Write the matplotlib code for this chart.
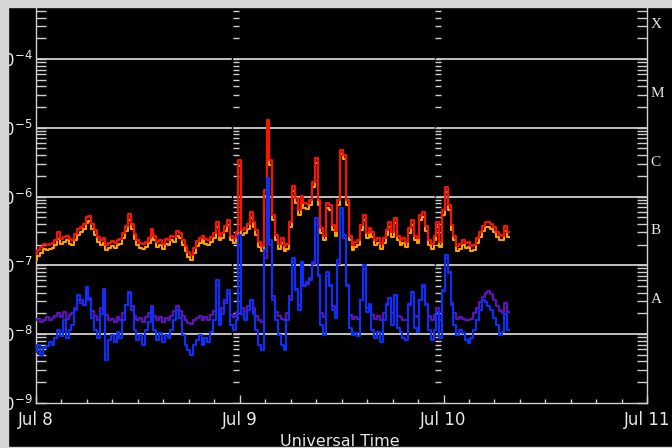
import numpy as np
import matplotlib.pyplot as plt
from matplotlib.ticker import FixedLocator, LogLocator, NullFormatter
from matplotlib.patches import Rectangle

# GOES X-ray flux, 8-10 July, values as log10(W/m^2) every 20 minutes

# long channel (1-8 A), primary satellite
largo_1 = [
    -6.84, -6.78, -6.74, -6.69, -6.71, -6.69, -6.68, -6.63, -6.52, -6.62, -6.59, -6.57,
    -6.62, -6.63, -6.55, -6.48, -6.45, -6.40, -6.30, -6.28, -6.40, -6.49, -6.59, -6.63,
    -6.60, -6.71, -6.68, -6.65, -6.68, -6.63, -6.62, -6.53, -6.43, -6.26, -6.40, -6.55,
    -6.63, -6.68, -6.69, -6.66, -6.60, -6.47, -6.57, -6.66, -6.63, -6.69, -6.62, -6.63,
    -6.57, -6.59, -6.50, -6.53, -6.63, -6.72, -6.81, -6.85, -6.75, -6.65, -6.60, -6.57,
    -6.62, -6.63, -6.59, -6.53, -6.37, -6.57, -6.53, -6.43, -6.34, -6.57, -6.60, -6.52,
    -5.47, -6.49, -6.46, -6.40, -6.23, -6.37, -6.49, -6.66, -6.72, -5.91, -4.89, -5.47,
    -6.27, -6.56, -6.69, -6.60, -6.72, -6.69, -6.37, -5.85, -6.02, -6.20, -5.99, -6.10,
    -6.11, -6.05, -5.79, -5.44, -6.05, -6.46, -6.57, -6.10, -6.12, -6.42, -6.50, -6.05,
    -5.32, -5.40, -6.05, -6.57, -6.71, -6.66, -6.63, -6.42, -6.27, -6.53, -6.46, -6.52,
    -6.63, -6.60, -6.69, -6.60, -6.49, -6.37, -6.52, -6.31, -6.57, -6.63, -6.60, -6.66,
    -6.46, -6.34, -6.57, -6.60, -6.27, -6.23, -6.43, -6.63, -6.69, -6.57, -6.37, -6.66,
    -6.20, -5.86, -6.12, -6.42, -6.57, -6.72, -6.69, -6.63, -6.68, -6.66, -6.72, -6.71,
    -6.60, -6.52, -6.43, -6.37, -6.37, -6.40, -6.45, -6.52, -6.56, -6.57, -6.43, -6.52,
]

# long channel, secondary satellite
largo_2 = [
    -6.92, -6.86, -6.82, -6.77, -6.78, -6.76, -6.75, -6.70, -6.62, -6.69, -6.66, -6.64,
    -6.69, -6.70, -6.63, -6.56, -6.52, -6.47, -6.38, -6.35, -6.47, -6.56, -6.66, -6.70,
    -6.68, -6.78, -6.75, -6.72, -6.75, -6.70, -6.69, -6.61, -6.50, -6.34, -6.47, -6.62,
    -6.70, -6.75, -6.77, -6.73, -6.67, -6.55, -6.64, -6.73, -6.70, -6.76, -6.69, -6.70,
    -6.64, -6.66, -6.58, -6.60, -6.70, -6.79, -6.88, -6.93, -6.82, -6.72, -6.67, -6.64,
    -6.69, -6.70, -6.66, -6.60, -6.45, -6.64, -6.60, -6.50, -6.42, -6.64, -6.67, -6.59,
    -5.55, -6.56, -6.53, -6.47, -6.31, -6.44, -6.56, -6.73, -6.79, -5.99, -4.95, -5.54,
    -6.34, -6.63, -6.76, -6.67, -6.79, -6.76, -6.44, -5.92, -6.09, -6.27, -6.06, -6.17,
    -6.18, -6.12, -5.86, -5.51, -6.12, -6.53, -6.64, -6.17, -6.19, -6.49, -6.57, -6.12,
    -5.38, -5.46, -6.12, -6.64, -6.78, -6.73, -6.70, -6.49, -6.34, -6.60, -6.53, -6.59,
    -6.70, -6.67, -6.76, -6.67, -6.56, -6.44, -6.59, -6.38, -6.64, -6.70, -6.67, -6.73,
    -6.53, -6.41, -6.64, -6.67, -6.34, -6.30, -6.50, -6.70, -6.76, -6.64, -6.44, -6.73,
    -6.27, -5.93, -6.19, -6.49, -6.64, -6.79, -6.76, -6.70, -6.75, -6.73, -6.79, -6.78,
    -6.67, -6.59, -6.50, -6.44, -6.44, -6.47, -6.52, -6.59, -6.63, -6.64, -6.50, -6.59,
]

# short channel (0.5-4 A), primary satellite
corto_1 = [
    -8.26, -8.16, -8.31, -8.20, -8.18, -8.12, -8.16, -8.06, -7.94, -8.03, -7.80, -8.06,
    -7.94, -7.87, -7.65, -7.44, -7.51, -7.58, -7.32, -7.48, -7.77, -7.94, -8.06, -7.71,
    -7.36, -8.38, -8.09, -8.01, -8.12, -7.97, -8.06, -7.80, -7.58, -7.39, -7.65, -7.94,
    -8.09, -8.01, -8.16, -7.94, -7.83, -7.62, -7.94, -8.09, -7.99, -8.12, -8.01, -8.06,
    -7.94, -7.80, -7.65, -7.77, -8.01, -8.16, -8.23, -8.31, -8.16, -8.09, -8.01, -8.16,
    -8.06, -8.12, -7.97, -7.80, -7.22, -7.87, -7.71, -7.51, -7.36, -7.87, -7.94, -7.80,
    -6.56, -7.71, -7.80, -7.65, -7.51, -7.71, -7.94, -8.16, -8.23, -6.78, -5.73, -6.63,
    -7.51, -7.80, -8.01, -8.16, -8.23, -7.80, -7.51, -6.90, -7.36, -7.65, -6.95, -7.29,
    -7.25, -7.19, -6.95, -6.32, -7.14, -7.87, -8.01, -7.10, -7.29, -7.65, -7.77, -6.93,
    -6.17, -6.56, -7.29, -7.92, -8.01, -7.99, -8.03, -7.51, -7.00, -7.68, -7.58, -7.94,
    -8.06, -7.97, -8.12, -7.80, -7.58, -7.48, -7.87, -7.44, -7.92, -7.97, -8.06, -8.09,
    -7.58, -7.39, -7.92, -7.97, -7.51, -7.29, -7.58, -7.94, -8.09, -7.94, -7.68, -8.06,
    -7.36, -6.85, -7.10, -7.58, -7.87, -8.01, -7.94, -7.99, -8.09, -8.13, -8.06, -7.94,
    -7.80, -7.65, -7.51, -7.54, -7.59, -7.65, -7.77, -7.87, -8.01, -7.97, -7.71, -7.94,
]

# short channel, secondary satellite
corto_2 = [
    -7.80, -7.78, -7.83, -7.79, -7.76, -7.80, -7.77, -7.74, -7.70, -7.76, -7.68, -7.78,
    -7.72, -7.70, -7.62, -7.50, -7.55, -7.58, -7.38, -7.50, -7.66, -7.74, -7.80, -7.62,
    -7.34, -7.72, -7.80, -7.78, -7.82, -7.76, -7.80, -7.70, -7.58, -7.42, -7.60, -7.74,
    -7.80, -7.77, -7.82, -7.75, -7.70, -7.60, -7.74, -7.80, -7.76, -7.82, -7.77, -7.79,
    -7.74, -7.66, -7.60, -7.66, -7.74, -7.80, -7.84, -7.86, -7.80, -7.77, -7.74, -7.80,
    -7.76, -7.79, -7.72, -7.66, -7.30, -7.72, -7.62, -7.55, -7.42, -7.72, -7.76, -7.68,
    -6.70, -7.62, -7.68, -7.60, -7.50, -7.62, -7.74, -7.80, -7.82, -6.90, -5.85, -6.70,
    -7.45, -7.68, -7.74, -7.78, -7.80, -7.70, -7.45, -6.95, -7.35, -7.58, -7.00, -7.30,
    -7.28, -7.22, -6.98, -6.40, -7.15, -7.70, -7.76, -7.15, -7.30, -7.60, -7.68, -6.98,
    -6.25, -6.60, -7.30, -7.72, -7.78, -7.76, -7.78, -7.50, -7.05, -7.62, -7.56, -7.72,
    -7.78, -7.74, -7.80, -7.70, -7.56, -7.48, -7.70, -7.44, -7.74, -7.76, -7.80, -7.80,
    -7.56, -7.40, -7.74, -7.76, -7.50, -7.32, -7.56, -7.74, -7.80, -7.72, -7.62, -7.80,
    -7.38, -6.90, -7.12, -7.55, -7.70, -7.78, -7.76, -7.78, -7.80, -7.80, -7.78, -7.70,
    -7.62, -7.54, -7.46, -7.40, -7.38, -7.42, -7.50, -7.60, -7.66, -7.70, -7.55, -7.68,
]

dias = ["Jul 8", "Jul 9", "Jul 10", "Jul 11"]
clases = ["A", "B", "C", "M", "X"]
columnas = [23.15, 47.02]   # extra tick columns (hours)

gris = "#cfcfcf"

horas = np.arange(len(largo_1)) / 3.0

fig = plt.figure(figsize=(6.72, 4.48), dpi=100, facecolor="black")
ax = fig.add_axes([36/672, 45.3/448, 611.3/672, 412.4/448])
ax.set_facecolor("black")
ax.set_yscale("log")
ax.set_xlim(0, 72)
ax.set_ylim(1e-9, 1e-3)

# grid (decades)
for d in range(-8, -3):
    ax.axhline(10.0**d, color=gris, lw=1.3, zorder=1)

# series
estilo = dict(lw=1.5, drawstyle="steps-mid")
ax.plot(horas, 10**np.array(largo_2), color="#ffa000", zorder=3, **estilo)
ax.plot(horas, 10**np.array(largo_1), color="#ff1000", zorder=4, **estilo)
ax.plot(horas, 10**np.array(corto_2), color="#6010c0", zorder=3, **estilo)
ax.plot(horas, 10**np.array(corto_1), color="#0a30ff", zorder=4, **estilo)

# extra columns of y ticks
ys = [m * 10.0**d for d in range(-9, -3) for m in range(1, 10)]
for xc in columnas:
    ax.axvline(xc - 0.08, color="black", lw=1.0, zorder=2)
    ax.hlines(ys, xc, xc + 0.72, color=gris, lw=1.0, zorder=2)

# axes
for s in ["left", "bottom", "right"]:
    ax.spines[s].set_color(gris)
    ax.spines[s].set_linewidth(1.0)
ax.spines["top"].set_visible(False)

ax.xaxis.set_major_locator(FixedLocator([0, 24, 48, 72]))
ax.xaxis.set_minor_locator(FixedLocator(np.arange(0, 73, 3)))
ax.set_xticklabels(dias)
ax.yaxis.set_major_locator(FixedLocator([10.0**d for d in range(-9, -2)]))
ax.yaxis.set_minor_locator(LogLocator(base=10, subs=np.arange(2, 10), numticks=20))
ax.yaxis.set_minor_formatter(NullFormatter())

ax.tick_params(axis="y", which="both", direction="in", left=True, right=True,
               length=7, width=1.0, color=gris, labelcolor="#e8e8e8",
               labelsize=12, pad=2.5)
ax.tick_params(axis="x", which="major", direction="in", top=False, length=6,
               width=1.0, color=gris, labelcolor="#e8e8e8", labelsize=12, pad=6)
ax.tick_params(axis="x", which="minor", direction="in", top=False, length=3,
               width=1.0, color=gris)

# flare classes on the right
for i, c in enumerate(clases):
    ax.text(1.005, 10.0**(-7.5 + i), c, transform=ax.get_yaxis_transform(),
            color="#e8e8e8", fontsize=11, family="Liberation Serif",
            ha="left", va="center")

fig.text(340/672, 2/448, "Universal Time", color="#e8e8e8", fontsize=11.5,
         ha="center", va="baseline")

# grey frame of the screenshot
fig.patches.append(Rectangle((0, 0), 8.3/672, 1, transform=fig.transFigure,
                             color="#d6d6d6", zorder=10))
fig.patches.append(Rectangle((0, 1 - 7/448), 1, 7/448, transform=fig.transFigure,
                             color="#d6d6d6", zorder=10))
fig.patches.append(Rectangle((0, 0), 1, 1.3/448, transform=fig.transFigure,
                             color="#d6d6d6", zorder=10))

plt.savefig("out.png", dpi=100, facecolor="black")
